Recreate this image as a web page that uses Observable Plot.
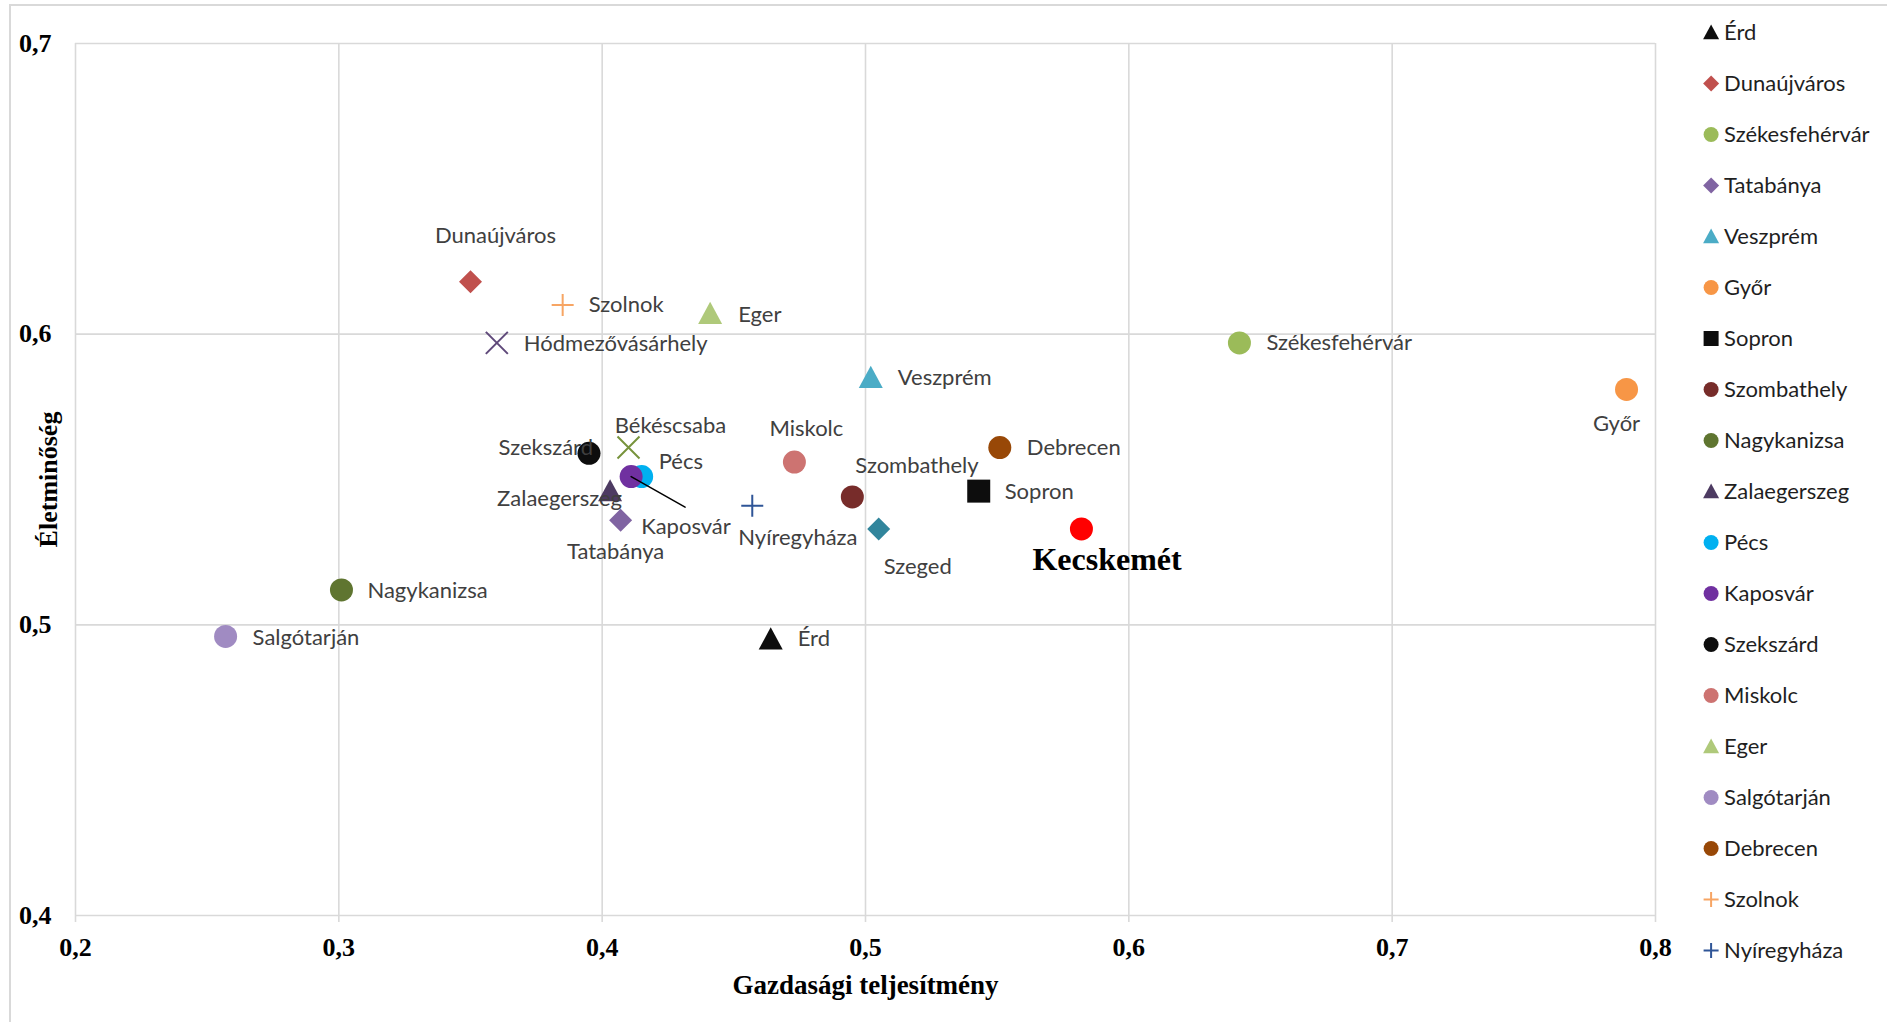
<!DOCTYPE html>
<html>
<head>
<meta charset="utf-8">
<script src="https://cdn.jsdelivr.net/npm/d3@7"></script>
<script src="https://cdn.jsdelivr.net/npm/@observablehq/plot@0.6"></script>
<style>
html, body { margin: 0; padding: 0; background: #fff; }
#wrap { position: relative; width: 1887px; height: 1022px; overflow: hidden; background: #fff; }
#frame { position: absolute; left: 9px; top: 4px; width: 1900px; height: 1100px; border-top: 2px solid #d9d9d9; border-left: 2px solid #d9d9d9; }
#chart { position: absolute; left: 0; top: 0; }
#legend { position: absolute; left: 1690px; top: 0; }
</style>
</head>
<body>
<div id="wrap"><div id="frame"></div><div id="chart"></div><div id="legend"></div></div>
<script>
// ---- data ----
const cities = ["Érd", "Dunaújváros", "Székesfehérvár", "Tatabánya", "Veszprém", "Győr", "Sopron", "Szombathely",
  "Nagykanizsa", "Zalaegerszeg", "Pécs", "Kaposvár", "Szekszárd", "Miskolc", "Eger", "Salgótarján", "Debrecen",
  "Szolnok", "Nyíregyháza", "Hódmezővásárhely", "Békéscsaba", "Szeged", "Kecskemét"];
const gazdasagiTeljesitmeny = [0.464, 0.350, 0.642, 0.407, 0.502, 0.789, 0.543, 0.495,
  0.301, 0.403, 0.415, 0.411, 0.395, 0.473, 0.441, 0.257, 0.551,
  0.385, 0.457, 0.360, 0.410, 0.505, 0.582];
const eletminoseg = [0.495, 0.618, 0.597, 0.536, 0.585, 0.581, 0.546, 0.544,
  0.512, 0.546, 0.551, 0.551, 0.559, 0.556, 0.607, 0.496, 0.561,
  0.610, 0.541, 0.597, 0.561, 0.533, 0.533];
const markerShapes = ["triangle", "diamond", "circle", "diamond", "triangle", "circle", "square", "circle",
  "circle", "triangle", "circle", "circle", "circle", "circle", "triangle", "circle", "circle",
  "plus", "plus", "times", "times", "diamond", "circle"];
const markerColors = ["#0d0d0d", "#c0504d", "#9bbb59", "#8064a2", "#4bacc6", "#f79646", "#0d0d0d", "#772c2a",
  "#5f7530", "#4d3b62", "#00b0f0", "#7030a0", "#0d0d0d", "#cd7371", "#afc97a", "#a08bc2", "#984807",
  "#f7a564", "#2f5597", "#5f497a", "#77933c", "#31859c", "#ff0000"];
const legendCities = ["Érd", "Dunaújváros", "Székesfehérvár", "Tatabánya", "Veszprém", "Győr", "Sopron", "Szombathely",
  "Nagykanizsa", "Zalaegerszeg", "Pécs", "Kaposvár", "Szekszárd", "Miskolc", "Eger", "Salgótarján", "Debrecen",
  "Szolnok", "Nyíregyháza"];
const xTicks = [0.2, 0.3, 0.4, 0.5, 0.6, 0.7, 0.8];
const yTicks = [0.4, 0.5, 0.6, 0.7];
const xTitle = "Gazdasági teljesítmény";
const yTitle = "Életminőség";

// ---- table built from the arrays ----
const points = cities.map((c, i) => ({city: c, x: gazdasagiTeljesitmeny[i], y: eletminoseg[i], shape: markerShapes[i], color: markerColors[i]}));
const legendData = legendCities.map(c => points.find(d => d.city === c));

// ---- symbols ----
const rOf = size => Math.sqrt(size / Math.PI);
const symbolMap = {
  triangle: {draw(ctx, size) { const r = rOf(size); ctx.moveTo(0, -r); ctx.lineTo(r, 0.85 * r); ctx.lineTo(-r, 0.85 * r); ctx.closePath(); }},
  square: {draw(ctx, size) { const r = rOf(size); ctx.moveTo(-r, -r); ctx.lineTo(r, -r); ctx.lineTo(r, r); ctx.lineTo(-r, r); ctx.closePath(); }},
  diamond: {draw(ctx, size) { const r = rOf(size); ctx.moveTo(0, -r); ctx.lineTo(r, 0); ctx.lineTo(0, r); ctx.lineTo(-r, 0); ctx.closePath(); }},
  circle: d3.symbolCircle,
  plus: {draw(ctx, size) { const r = rOf(size); ctx.moveTo(-r, 0); ctx.lineTo(r, 0); ctx.moveTo(0, -r); ctx.lineTo(0, r); }},
  times: {draw(ctx, size) { const r = rOf(size); ctx.moveTo(-r, -r); ctx.lineTo(r, r); ctx.moveTo(r, -r); ctx.lineTo(-r, r); }}
};
const mainR = {triangle: 12, square: 11.5, diamond: 11.5, circle: 11.5, plus: 11, times: 11};
const legendR = {triangle: 8, square: 7.5, diamond: 8, circle: 7.5, plus: 7.5, times: 7.5};

function shapeDots(data, opts, rMap) {
  return ["diamond", "square", "triangle", "plus", "times", "circle"].map(s => {
    const stroked = s === "plus" || s === "times";
    return Plot.dot(data.filter(d => d.shape === s), {
      ...opts,
      symbol: symbolMap[s],
      r: rMap[s],
      fill: stroked ? "none" : "color",
      stroke: stroked ? "color" : "none",
      strokeWidth: stroked ? 2 : 0
    });
  });
}

// label placement (pixel offsets from the marker)
const labelPlacement = {
  "Érd": [27, 0, "start"], "Dunaújváros": [25, -46, "middle"], "Székesfehérvár": [27, 0, "start"],
  "Tatabánya": [-5, 32, "middle"], "Veszprém": [27, 0, "start"], "Győr": [-10, 35, "middle"],
  "Sopron": [26, 1, "start"], "Szombathely": [3, -31, "start"], "Nagykanizsa": [26, 1, "start"],
  "Zalaegerszeg": [12, 8, "end"], "Pécs": [17, -15, "start"], "Kaposvár": [10, 50, "start"],
  "Szekszárd": [4, -5, "end"], "Miskolc": [12, -33, "middle"], "Eger": [28, 1, "start"],
  "Salgótarján": [27, 1, "start"], "Debrecen": [27, 0, "start"], "Szolnok": [26, 0, "start"],
  "Nyíregyháza": [-14, 32, "start"], "Hódmezővásárhely": [27, 1, "start"], "Békéscsaba": [42, -22, "middle"],
  "Szeged": [5, 38, "start"]
};

const fmt = d => d.toFixed(1).replace(".", ",");
const serif = "'Liberation Serif', 'Times New Roman', serif";
const sans = "Lato, 'Open Sans', sans-serif";

const labelMarks = Object.keys(labelPlacement).map(c => {
  const [dx, dy, anchor] = labelPlacement[c];
  return Plot.text(points.filter(d => d.city === c), {x: "x", y: "y", text: "city", dx, dy, textAnchor: anchor, fontSize: 22, fontFamily: sans, fill: "#404040"});
});

const chart = Plot.plot({
  width: 1690, height: 1022,
  marginLeft: 75, marginRight: 35, marginTop: 43, marginBottom: 107,
  style: {background: "transparent"},
  x: {domain: [0.2, 0.8]},
  y: {domain: [0.4, 0.7]},
  color: {type: "identity"},
  marks: [
    Plot.gridX(xTicks, {stroke: "#d9d9d9", strokeOpacity: 1, strokeWidth: 1.6}),
    Plot.gridY(yTicks, {stroke: "#d9d9d9", strokeOpacity: 1, strokeWidth: 1.6}),
    Plot.axisX(xTicks, {tickFormat: fmt, tickSize: 7, tickPadding: 15, stroke: "#d9d9d9", strokeWidth: 1.6, fill: "#000", fontSize: 26, fontWeight: "bold", fontFamily: serif, label: null}),
    Plot.axisY(yTicks, {tickFormat: fmt, tickSize: 0, tickPadding: 24, fill: "#000", fontSize: 26, fontWeight: "bold", fontFamily: serif, label: null}),
    Plot.text([xTitle], {frameAnchor: "bottom", dy: 78, fontSize: 27, fontWeight: "bold", fontFamily: serif, fill: "#000"}),
    Plot.text([yTitle], {frameAnchor: "left", textAnchor: "middle", dx: -27, rotate: -90, fontSize: 26, fontWeight: "bold", fontFamily: serif, fill: "#000"}),
    ...shapeDots(points, {x: "x", y: "y"}, mainR),
    Plot.vector(points.filter(d => d.city === "Kaposvár"), {x: "x", y: "y", length: 62, rotate: 119.5, anchor: "start", shape: "spike", r: 0, stroke: "#000", strokeWidth: 1.5}),
    ...labelMarks,
    Plot.text(points.filter(d => d.city === "Kecskemét"), {x: "x", y: "y", text: "city", dx: -49, dy: 31, textAnchor: "start", fontSize: 32, fontWeight: "bold", fontFamily: serif, fill: "#000"})
  ]
});
document.getElementById("chart").appendChild(chart);

const legend = Plot.plot({
  width: 197, height: 1022, margin: 0,
  style: {background: "transparent"},
  y: {type: "point", padding: 0, domain: legendCities, range: [29, 952], axis: null},
  color: {type: "identity"},
  marks: [
    ...shapeDots(legendData, {y: "city", frameAnchor: "left", dx: 20.6}, legendR),
    Plot.text(legendData, {y: "city", text: "city", frameAnchor: "left", dx: 33.6, textAnchor: "start", fontSize: 22, fontFamily: sans, fill: "#1f1f1f"})
  ]
});
document.getElementById("legend").appendChild(legend);
</script>
</body>
</html>
